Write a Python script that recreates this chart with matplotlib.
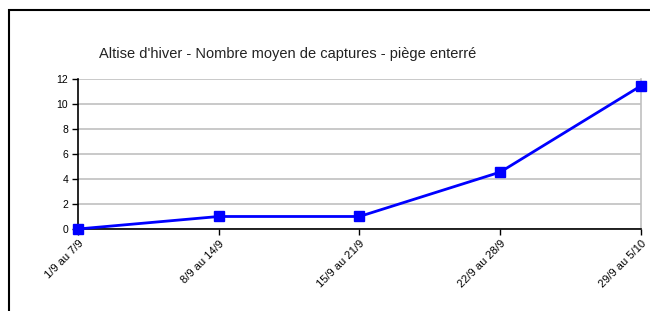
import matplotlib
matplotlib.use('Agg')
import matplotlib.pyplot as plt
from matplotlib.patches import Rectangle

plt.rcParams['font.family'] = ['Liberation Sans Narrow', 'Liberation Sans', 'DejaVu Sans']

# Data
periodes = ['1/9 au 7/9', '8/9 au 14/9', '15/9 au 21/9', '22/9 au 28/9', '29/9 au 5/10']
captures = [0, 1, 1, 4.55, 11.45]
yticks = [0, 2, 4, 6, 8, 10, 12]
titre = "Altise d'hiver - Nombre moyen de captures - piège enterré"

fig = plt.figure(figsize=(6.5, 3.11), dpi=100)
ax = fig.add_axes([0.12, 0.2637, 0.866, 0.4823])

# outer frame (cut off on the right and bottom)
fig.patches.append(Rectangle((0.0138, -0.05), 1.1, 1.018, transform=fig.transFigure,
                             fill=False, edgecolor='black', linewidth=1.5))

x = list(range(len(periodes)))
ax.plot(x, captures, color='#0000FF', linewidth=2, marker='s', markersize=7.5,
        clip_on=False, zorder=5)

ax.set_xlim(0, len(periodes) - 1)
ax.set_ylim(0, 12)
ax.set_yticks(yticks)
ax.set_yticklabels([str(v) for v in yticks], fontsize=7.5)
ax.set_xticks(x)
ax.set_xticklabels(periodes, rotation=45, ha='right', rotation_mode='anchor', fontsize=8)
ax.yaxis.grid(True, color='#c0c0c0', linewidth=1.2)
ax.set_axisbelow(True)

ax.spines['top'].set_visible(False)
ax.spines['right'].set_color('#c0c0c0')
ax.spines['right'].set_linewidth(1.2)
ax.spines['left'].set_linewidth(1.2)
ax.spines['bottom'].set_linewidth(1.2)
ax.tick_params(axis='both', direction='out', length=4, width=1, pad=3)

fig.text(0.442, 0.825, titre, ha='center', va='center', fontsize=10.5, color='#222222')

plt.savefig('out.png', dpi=100)
